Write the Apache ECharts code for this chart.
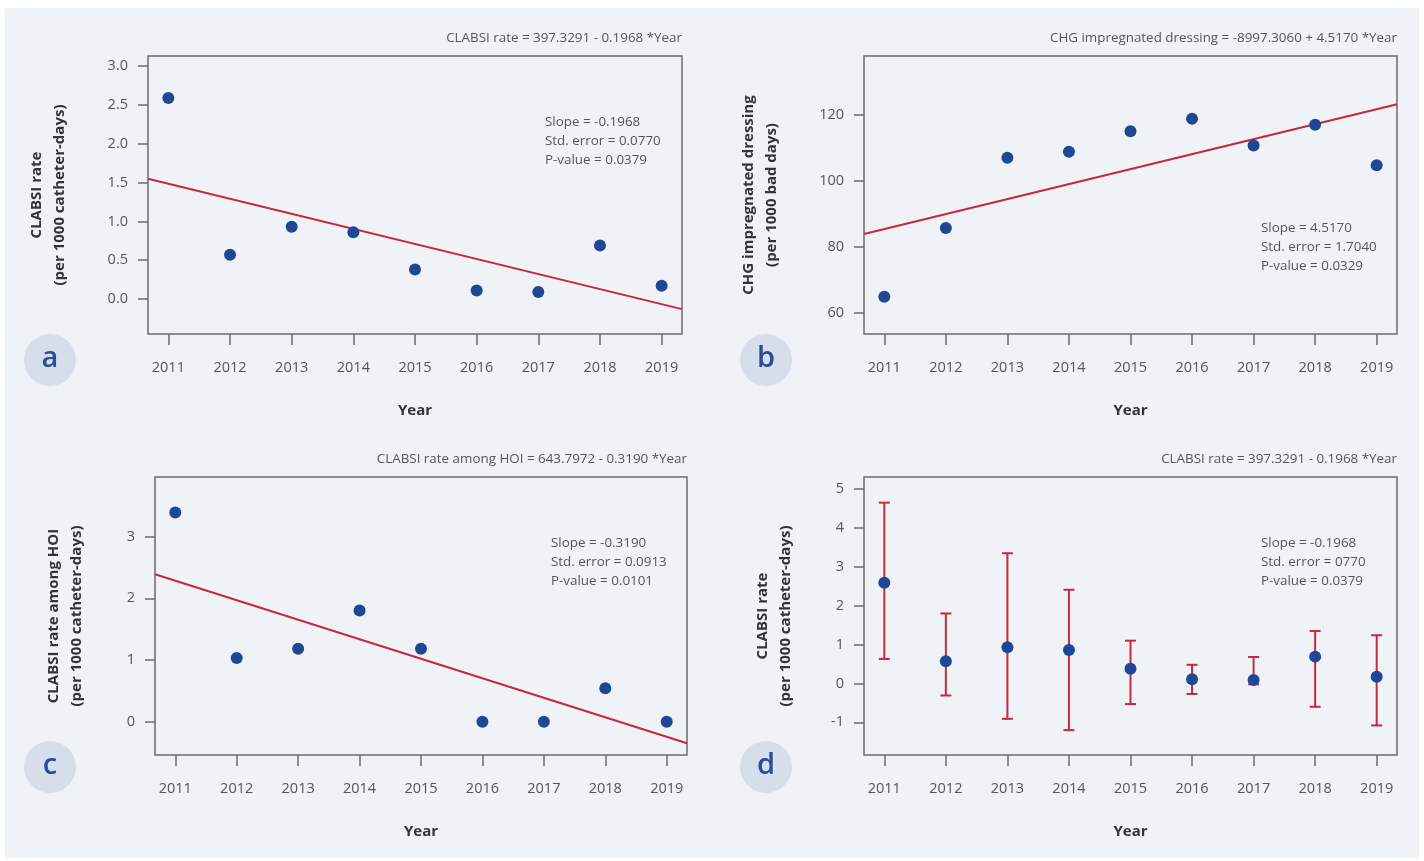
<!DOCTYPE html>
<html>
<head>
<meta charset="utf-8">
<script src="https://cdn.jsdelivr.net/npm/echarts@6/dist/echarts.min.js"></script>
<style>
  html, body { margin: 0; padding: 0; background: #ffffff; }
  #panel { position: absolute; left: 5px; top: 8px; width: 1414px; height: 850px; background: #eff3f8; }
  #viz { position: absolute; left: 0; top: 0; width: 1424px; height: 861px; }
</style>
</head>
<body>
<div id="panel"></div>
<div id="viz"></div>
<script>
// values
var years = [2011, 2012, 2013, 2014, 2015, 2016, 2017, 2018, 2019];
var clabsiRate = [2.59, 0.57, 0.93, 0.86, 0.38, 0.11, 0.09, 0.69, 0.17];
var chgDressing = [65.0, 85.8, 107.1, 108.9, 115.1, 118.9, 110.8, 117.1, 104.8];
var clabsiHoi = [3.39, 1.03, 1.18, 1.80, 1.18, 0.0, 0.0, 0.54, 0.0];
var ciLow = [0.63, -0.31, -0.91, -1.20, -0.53, -0.27, -0.02, -0.60, -1.08];
var ciHigh = [4.65, 1.80, 3.35, 2.41, 1.10, 0.48, 0.68, 1.35, 1.24];

// fitted lines, ends at the plot edges
var fitA = [[2010.67, 1.55], [2019.33, -0.13]];
var fitB = [[2010.67, 84.0], [2019.33, 123.3]];
var fitC = [[2010.67, 2.39], [2019.33, -0.35]];

var ticksA = [0, 0.5, 1, 1.5, 2, 2.5, 3];
var ticksB = [60, 80, 100, 120];
var ticksC = [0, 1, 2, 3];
var ticksD = [-1, 0, 1, 2, 3, 4, 5];

var eqA = 'CLABSI rate = 397.3291 - 0.1968 *Year';
var eqB = 'CHG impregnated dressing = -8997.3060 + 4.5170 *Year';
var eqC = 'CLABSI rate among HOI = 643.7972 - 0.3190 *Year';
var eqD = 'CLABSI rate = 397.3291 - 0.1968 *Year';
var statsA = ['Slope = -0.1968', 'Std. error = 0.0770', 'P-value = 0.0379'];
var statsB = ['Slope = 4.5170', 'Std. error = 1.7040', 'P-value = 0.0329'];
var statsC = ['Slope = -0.3190', 'Std. error = 0.0913', 'P-value = 0.0101'];
var statsD = ['Slope = -0.1968', 'Std. error = 0770', 'P-value = 0.0379'];

var FONT = '"Open Sans", "Noto Sans", sans-serif';
var DOT = '#1f4796';
var RED = '#c8283c';
var AXIS = '#6b6b6b';

function pairs(ys) {
  var out = [];
  for (var i in years) {
    out.push([years[i], ys[i]]);
  }
  return out;
}

function xAxisFor(idx) {
  return {
    type: 'value', gridIndex: idx, min: 2010.67, max: 2019.33,
    name: 'Year', nameLocation: 'middle', nameGap: 69,
    nameTextStyle: { fontFamily: FONT, fontSize: 15, fontWeight: 'bold', color: '#333' },
    axisLine: { show: false, onZero: false },
    axisTick: { show: true, length: 11, customValues: years, lineStyle: { color: AXIS, width: 1.5 } },
    axisLabel: { customValues: years, margin: 26, fontFamily: FONT, fontSize: 14.5, color: '#555',
      formatter: function (v) { return String(v); } },
    splitLine: { show: false }
  };
}

function yAxisFor(idx, min, max, ticks, name, gap, digits) {
  return {
    type: 'value', gridIndex: idx, min: min, max: max,
    name: name, nameLocation: 'middle', nameGap: gap,
    nameTextStyle: { fontFamily: FONT, fontSize: 15, fontWeight: 'bold', color: '#333', lineHeight: 23 },
    axisLine: { show: false, onZero: false },
    axisTick: { show: true, length: 10, customValues: ticks, lineStyle: { color: AXIS, width: 1.5 } },
    axisLabel: { customValues: ticks, margin: 20, fontFamily: FONT, fontSize: 14.5, color: '#555',
      formatter: function (v) { return digits ? v.toFixed(digits) : String(Math.round(v)); } },
    splitLine: { show: false }
  };
}

function dots(idx, ys) {
  return { type: 'scatter', xAxisIndex: idx, yAxisIndex: idx, symbolSize: 12, z: 5,
    itemStyle: { color: DOT, opacity: 1 }, data: pairs(ys) };
}

function fit(idx, pts) {
  return { type: 'line', xAxisIndex: idx, yAxisIndex: idx, showSymbol: false, z: 4,
    lineStyle: { color: RED, width: 2 }, data: pts };
}

function eqText(right, y, txt) {
  return { type: 'text', right: right, top: y - 9, style: { text: txt, fontFamily: FONT, fontSize: 13.4, fill: '#555' } };
}

function statText(x, y, lines) {
  return { type: 'text', left: x, top: y - 9, style: { text: lines.join('\n'), fontFamily: FONT, fontSize: 13.4,
    lineHeight: 18.7, fill: '#555' } };
}

function badge(cx, cy, letter) {
  return { type: 'group', left: cx - 26, top: cy - 26, children: [
    { type: 'circle', shape: { cx: 26, cy: 26, r: 26 }, style: { fill: '#d6ddeb' } },
    { type: 'text', x: 26, y: 25, style: { text: letter, fontFamily: FONT, fontSize: 29, fontWeight: 600,
      fill: '#2b4c9b', align: 'center', verticalAlign: 'middle' } }
  ] };
}

var errBars = [];
for (var i in years) {
  errBars.push([years[i], ciLow[i], ciHigh[i]]);
}

var dom = document.getElementById('viz');
var myChart = echarts.init(dom);
var option = {
  animation: false,
  backgroundColor: 'transparent',
  grid: [
    { left: 148, top: 56, width: 534, height: 278, show: true, borderColor: AXIS, borderWidth: 1.5, backgroundColor: 'transparent' },
    { left: 864, top: 56, width: 533, height: 278, show: true, borderColor: AXIS, borderWidth: 1.5, backgroundColor: 'transparent' },
    { left: 155, top: 477, width: 532, height: 278, show: true, borderColor: AXIS, borderWidth: 1.5, backgroundColor: 'transparent' },
    { left: 864, top: 477, width: 533, height: 278, show: true, borderColor: AXIS, borderWidth: 1.5, backgroundColor: 'transparent' }
  ],
  xAxis: [xAxisFor(0), xAxisFor(1), xAxisFor(2), xAxisFor(3)],
  yAxis: [
    yAxisFor(0, -0.45, 3.13, ticksA, 'CLABSI rate\n(per 1000 catheter-days)', 77, 1),
    yAxisFor(1, 53.7, 137.9, ticksB, 'CHG impregnated dressing\n(per 1000 bad days)', 81, 0),
    yAxisFor(2, -0.54, 3.965, ticksC, 'CLABSI rate among HOI\n(per 1000 catheter-days)', 67, 0),
    yAxisFor(3, -1.84, 5.31, ticksD, 'CLABSI rate\n(per 1000 catheter-days)', 67, 0)
  ],
  series: [
    fit(0, fitA), dots(0, clabsiRate),
    fit(1, fitB), dots(1, chgDressing),
    fit(2, fitC), dots(2, clabsiHoi),
    {
      type: 'custom', xAxisIndex: 3, yAxisIndex: 3, z: 4, data: errBars,
      renderItem: function (params, api) {
        var x = api.value(0);
        var top = api.coord([x, api.value(2)]);
        var bot = api.coord([x, api.value(1)]);
        var half = 5.5;
        var st = { stroke: RED, lineWidth: 2 };
        return { type: 'group', children: [
          { type: 'line', shape: { x1: top[0], y1: top[1], x2: bot[0], y2: bot[1] }, style: st },
          { type: 'line', shape: { x1: top[0] - half, y1: top[1], x2: top[0] + half, y2: top[1] }, style: st },
          { type: 'line', shape: { x1: bot[0] - half, y1: bot[1], x2: bot[0] + half, y2: bot[1] }, style: st }
        ] };
      }
    },
    dots(3, clabsiRate)
  ],
  graphic: [
    eqText(1424 - 682, 41, eqA),
    eqText(1424 - 1397, 41, eqB),
    eqText(1424 - 687, 462, eqC),
    eqText(1424 - 1397, 462, eqD),
    statText(545, 122, statsA),
    statText(1261, 228, statsB),
    statText(551, 543, statsC),
    statText(1261, 543, statsD),
    badge(50, 360, 'a'),
    badge(766, 360, 'b'),
    badge(50, 767, 'c'),
    badge(766, 767, 'd')
  ]
};
myChart.setOption(option);
</script>
</body>
</html>
